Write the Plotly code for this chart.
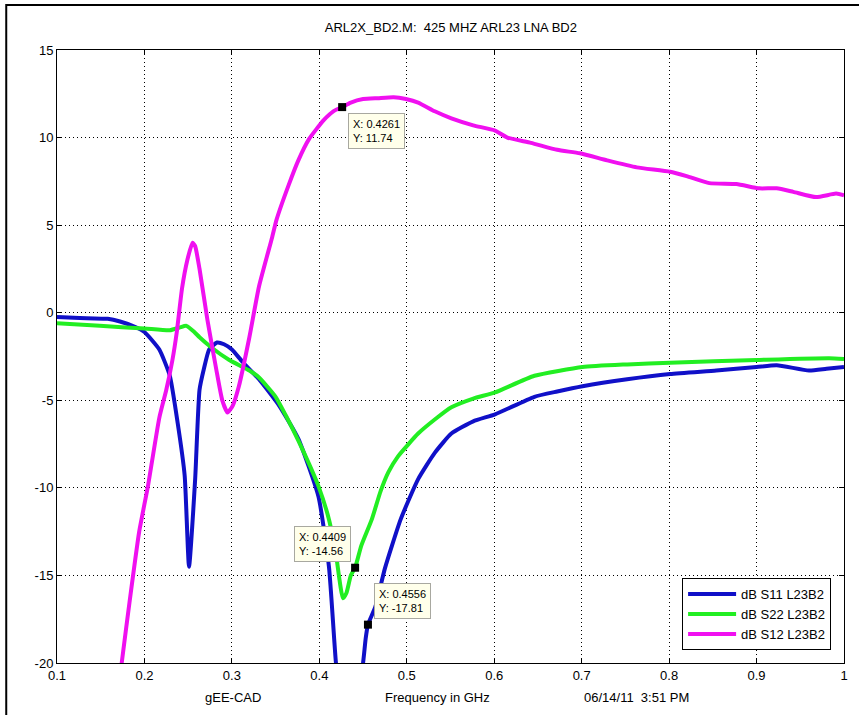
import plotly.graph_objects as go

# ---------------- data ----------------
s11_f = [0.100, 0.126, 0.158, 0.172, 0.189, 0.200, 0.217, 0.229, 0.238, 0.246, 0.251,
         0.258, 0.263, 0.268, 0.274, 0.283, 0.291, 0.300, 0.312, 0.331, 0.354, 0.376,
         0.399, 0.411, 0.419, 0.432, 0.450, 0.453, 0.4556, 0.464, 0.475, 0.493, 0.513,
         0.532, 0.551, 0.576, 0.601, 0.646, 0.672, 0.701, 0.752, 0.801, 0.854, 0.900,
         0.923, 0.960, 0.980, 1.000]
s11_db = [-0.25, -0.3, -0.35, -0.5, -0.8, -1.1, -2.1, -3.6, -6.3, -9.3, -14.5,
          -9.5, -4.4, -3.2, -2.1, -1.7, -1.8, -2.1, -2.8, -3.8, -5.3, -7.2,
          -10.5, -14.5, -20.0, -26.0, -20.0, -18.6, -17.81, -16.8, -14.6, -11.8, -9.5,
          -8.0, -6.9, -6.2, -5.8, -4.8, -4.5, -4.2, -3.8, -3.5, -3.3, -3.1,
          -3.0, -3.3, -3.2, -3.1]

s22_f = [0.100, 0.149, 0.200, 0.229, 0.240, 0.248, 0.257, 0.263, 0.277, 0.297, 0.320,
         0.331, 0.350, 0.362, 0.376, 0.388, 0.399, 0.411, 0.419, 0.427, 0.431, 0.436,
         0.4409, 0.448, 0.460, 0.470, 0.479, 0.490, 0.502, 0.513, 0.532, 0.551, 0.576,
         0.601, 0.646, 0.701, 0.752, 0.801, 0.900, 0.983, 1.000]
s22_db = [-0.6, -0.75, -0.9, -1.0, -0.85, -0.75, -1.1, -1.4, -2.0, -2.7, -3.3,
          -3.7, -4.8, -5.9, -7.3, -8.6, -9.9, -11.8, -13.8, -16.3, -16.0, -15.0,
          -14.56, -13.3, -11.8, -10.2, -9.1, -8.2, -7.5, -6.9, -6.1, -5.4, -4.9,
          -4.55, -3.6, -3.1, -2.95, -2.85, -2.7, -2.6, -2.65]

s12_f = [0.168, 0.174, 0.183, 0.194, 0.204, 0.217, 0.225, 0.232, 0.237, 0.243, 0.249,
         0.255, 0.258, 0.263, 0.272, 0.282, 0.289, 0.295, 0.301, 0.308, 0.320, 0.331,
         0.346, 0.351, 0.365, 0.376, 0.388, 0.405, 0.416, 0.4261, 0.436, 0.450, 0.467,
         0.485, 0.499, 0.513, 0.532, 0.551, 0.576, 0.601, 0.615, 0.642, 0.672, 0.698,
         0.729, 0.763, 0.801, 0.820, 0.846, 0.877, 0.903, 0.923, 0.942, 0.968, 0.991, 1.000]
s12_db = [-22.5, -20.0, -16.5, -12.5, -9.9, -6.0, -4.4, -2.7, -1.1, 1.4, 3.0,
          4.0, 3.8, 2.5, -0.4, -3.2, -5.0, -5.7, -5.3, -4.2, -1.4, 1.5,
          4.3, 5.3, 7.3, 8.7, 9.9, 11.0, 11.5, 11.74, 12.0, 12.2, 12.25,
          12.3, 12.2, 12.0, 11.5, 11.1, 10.7, 10.4, 10.0, 9.7, 9.3, 9.1,
          8.7, 8.3, 8.05, 7.8, 7.4, 7.35, 7.1, 7.1, 6.9, 6.6, 6.8, 6.7]

series_names = ["dB S11 L23B2", "dB S22 L23B2", "dB S12 L23B2"]

tip_x = [0.4261, 0.4409, 0.4556]
tip_y = [11.74, -14.56, -17.81]

x_ticks = [0.1, 0.2, 0.3, 0.4, 0.5, 0.6, 0.7, 0.8, 0.9, 1.0]
x_tick_text = ["0.1", "0.2", "0.3", "0.4", "0.5", "0.6", "0.7", "0.8", "0.9", "1"]
y_ticks = [15, 10, 5, 0, -5, -10, -15, -20]
y_tick_text = ["15", "10", "5", "0", "-5", "-10", "-15", "-20"]

title_text = "ARL2X_BD2.M:  425 MHZ ARL23 LNA BD2"
xlabel_text = "Frequency in GHz"
left_note = "gEE-CAD"
right_note = "06/14/11  3:51 PM"

# ---------------- figure ----------------
FONT = "Liberation Sans, Arial, sans-serif"
colors = ["#1010C8", "#22EE22", "#F010F0"]

fig = go.Figure()
for f, v, name, c in zip([s11_f, s22_f, s12_f], [s11_db, s22_db, s12_db], series_names, colors):
    fig.add_trace(go.Scatter(x=f, y=v, mode="lines", name=name,
                             line=dict(color=c, width=4, shape="spline", smoothing=0.5)))

fig.add_trace(go.Scatter(x=tip_x, y=tip_y, mode="markers", showlegend=False,
                         marker=dict(symbol="square", size=8, color="black")))

tip_style = dict(
    font=dict(family=FONT, size=11, color="black"),
    bgcolor="#FFFFEA", bordercolor="#A8A8A0", borderwidth=1,
    borderpad=4, align="left", showarrow=False, xref="x", yref="y",
)
tip_pos = [
    dict(xanchor="left", yanchor="top", xshift=6, yshift=-6),
    dict(xanchor="right", yanchor="bottom", xshift=-4, yshift=6),
    dict(xanchor="left", yanchor="bottom", xshift=6, yshift=6),
]
for tx, ty, pos in zip(tip_x, tip_y, tip_pos):
    fig.add_annotation(x=tx, y=ty, text=f"X: {tx:.4f}<br>Y: {ty:.2f}", **tip_style, **pos)

for txt, xp in [(left_note, 0.2238), (xlabel_text, 0.483), (right_note, 0.736)]:
    fig.add_annotation(text=txt, x=xp, y=-0.0555, xref="paper", yref="paper",
                       xanchor="center", yanchor="middle", showarrow=False,
                       font=dict(family=FONT, size=13, color="black"))

# figure border (top / left visible)
fig.add_shape(type="rect", xref="paper", yref="paper",
              x0=-0.0645, x1=1.06, y0=-0.12, y1=1.0734,
              line=dict(color="black", width=2), fillcolor="rgba(0,0,0,0)", layer="above")

axis_common = dict(
    showline=True, linecolor="black", linewidth=1, mirror="ticks",
    ticks="inside", ticklen=5, tickcolor="black", tickwidth=1,
    showgrid=True, gridcolor="black", gridwidth=1, griddash="1px,3px",
    zeroline=False, tickfont=dict(family=FONT, size=13, color="black"),
)

fig.update_layout(
    width=859, height=715, autosize=False,
    margin=dict(l=57, r=11, t=50, b=52),
    paper_bgcolor="white", plot_bgcolor="white",
    font=dict(family=FONT, size=13, color="black"),
    title=dict(text=title_text, x=0.5005, xref="paper", y=1 - 27 / 715, yref="container",
               xanchor="center", yanchor="middle",
               font=dict(family=FONT, size=13, color="black")),
    xaxis=dict(range=[0.1, 1.0], tickvals=x_ticks, ticktext=x_tick_text, **axis_common),
    yaxis=dict(range=[-20, 15], tickvals=y_ticks, ticktext=y_tick_text, **axis_common),
    legend=dict(x=0.9836, y=0.021, xanchor="right", yanchor="bottom",
                bgcolor="white", bordercolor="black", borderwidth=1,
                font=dict(family=FONT, size=13, color="black"),
                itemwidth=48, tracegroupgap=0),
    showlegend=True,
)

fig.write_html("out.html")
